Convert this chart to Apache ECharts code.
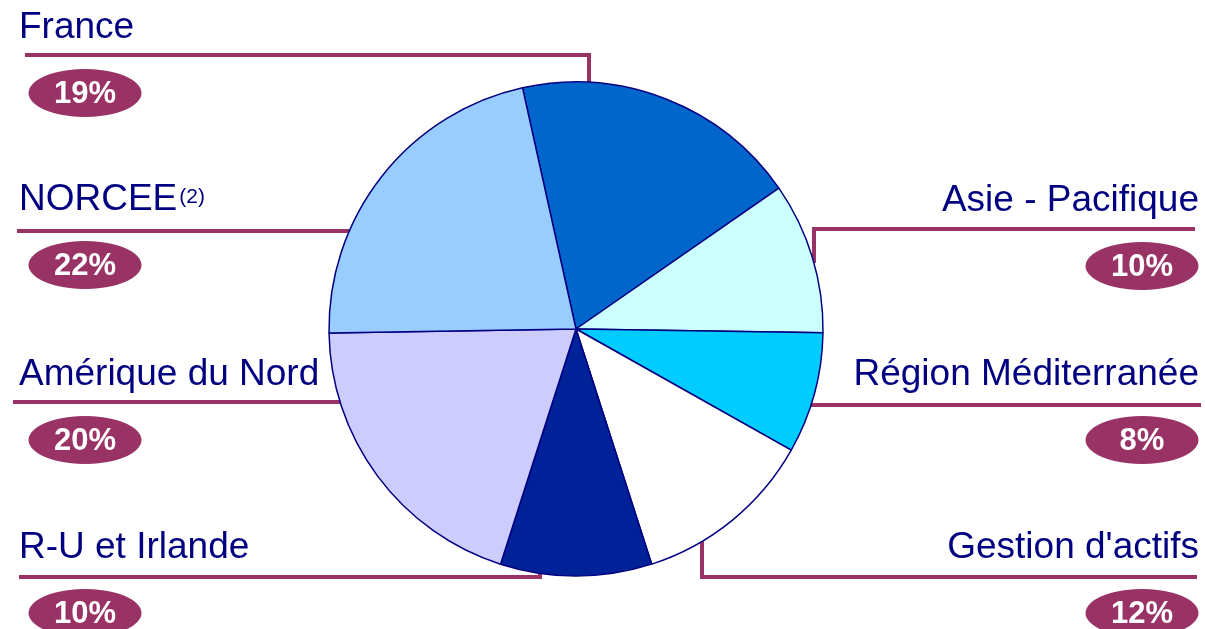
<!DOCTYPE html>
<html>
<head>
<meta charset="utf-8">
<script src="https://cdn.jsdelivr.net/npm/echarts@6/dist/echarts.min.js"></script>
<style>
  html, body { margin: 0; padding: 0; background: #fff; }
  #pie { width: 1205px; height: 629px; }
</style>
</head>
<body>
<div id="pie"></div>
<script>
// données (ordre horaire à partir de France)
var categories = ['France', 'Asie - Pacifique', 'Région Méditerranée', "Gestion d'actifs", 'R-U et Irlande', 'Amérique du Nord', 'NORCEE'];
var shares = [19, 10, 8, 12, 10, 20, 22];
var notes = ['', '', '', '', '', '', '(2)'];

var sliceColors = ['#0066CC', '#CCFFFF', '#00CCFF', '#FFFFFF', '#002299', '#CCCCFF', '#99CCFF'];

// géométrie du camembert
var cx = 576, cy = 329, r = 247;

// emplacement des étiquettes et des traits de rappel
var spots = [
    { side: 'left',  top: 7.5,   lineY: 55,  bendX: 589, farX: 25 },
    { side: 'right', top: 180.5, lineY: 229, bendX: 814, farX: 1195 },
    { side: 'right', top: 354.5, lineY: 405, farX: 1201 },
    { side: 'right', top: 527.5, lineY: 577, bendX: 702, farX: 1197 },
    { side: 'left',  top: 527.5, lineY: 577, bendX: 540, farX: 19 },
    { side: 'left',  top: 354.5, lineY: 402, farX: 13 },
    { side: 'left',  top: 179.5, lineY: 231, farX: 17 }
];

function linePoints(s) {
    var edge;
    if (s.bendX != null) {
        var dy = Math.sqrt(r * r - (s.bendX - cx) * (s.bendX - cx));
        edge = [s.bendX, s.lineY < cy ? cy - dy : cy + dy];
    } else {
        var dx = Math.sqrt(r * r - (s.lineY - cy) * (s.lineY - cy));
        edge = [s.side === 'left' ? cx - dx : cx + dx, s.lineY];
    }
    var bend = s.bendX != null ? [s.bendX, s.lineY] : edge.slice();
    return [edge, bend, [s.farX, s.lineY]];
}

var fontFam = '"Liberation Sans", Arial, Helvetica, sans-serif';
var maroon = '#993366';

// pastille elliptique
var badge = document.createElement('canvas');
badge.width = 228; badge.height = 98;
var bctx = badge.getContext('2d');
bctx.fillStyle = maroon;
bctx.beginPath();
bctx.ellipse(114, 49, 113, 48, 0, 0, Math.PI * 2);
bctx.fill();

var measure = document.createElement('canvas').getContext('2d');
measure.font = 'bold 31px "Liberation Sans", Arial';

var rich = {
    nL: { fontSize: 37, color: '#000080', lineHeight: 41, align: 'left', fontFamily: fontFam },
    nR: { fontSize: 37, color: '#000080', lineHeight: 41, align: 'right', fontFamily: fontFam },
    sup: { fontSize: 21, color: '#000080', padding: [0, 0, 6, 2], fontFamily: fontFam },
    sp: { fontSize: 2, lineHeight: 20 },
    g: { fontSize: 2, width: 9, align: 'left' }
};
categories.forEach(function (c, i) {
    var txt = shares[i] + '%';
    var w = measure.measureText(txt).width;
    var p = (114 - w) / 2;
    rich['b' + i] = {
        align: spots[i].side,
        width: w,
        padding: [2, p, 0, p],
        height: 47,
        lineHeight: 49,
        backgroundColor: { image: badge },
        color: '#fff',
        fontSize: 31,
        fontWeight: 'bold',
        fontFamily: fontFam
    };
});

var myChart = echarts.init(document.getElementById('pie'));
var option = {
    animation: false,
    backgroundColor: '#fff',
    series: [{
        type: 'pie',
        center: [cx, cy],
        radius: r,
        startAngle: 102.5,
        clockwise: true,
        avoidLabelOverlap: false,
        itemStyle: { borderColor: '#000080', borderWidth: 1.5 },
        label: {
            show: true,
            fontFamily: fontFam,
            formatter: function (p) {
                var i = p.dataIndex, s = spots[i];
                var head = '{' + (s.side === 'left' ? 'nL' : 'nR') + '|' + p.name + '}' + (notes[i] ? '{sup|' + notes[i] + '}' : '');
                var foot = (s.side === 'left' ? '{g| }' : '') + '{b' + i + '|' + shares[i] + '%}';
                return head + '\n{sp| }\n' + foot;
            },
            rich: rich
        },
        labelLine: {
            show: true,
            smooth: false,
            lineStyle: { color: maroon, width: 4, cap: 'butt', join: 'miter' }
        },
        labelLayout: function (params) {
            var s = spots[params.dataIndex];
            return {
                x: s.side === 'left' ? 19 : 1199,
                y: s.top,
                align: s.side,
                verticalAlign: 'top',
                labelLinePoints: linePoints(s)
            };
        },
        emphasis: { disabled: true },
        data: categories.map(function (c, i) {
            return { name: c, value: shares[i], itemStyle: { color: sliceColors[i] } };
        })
    }]
};
myChart.setOption(option);
</script>
</body>
</html>
